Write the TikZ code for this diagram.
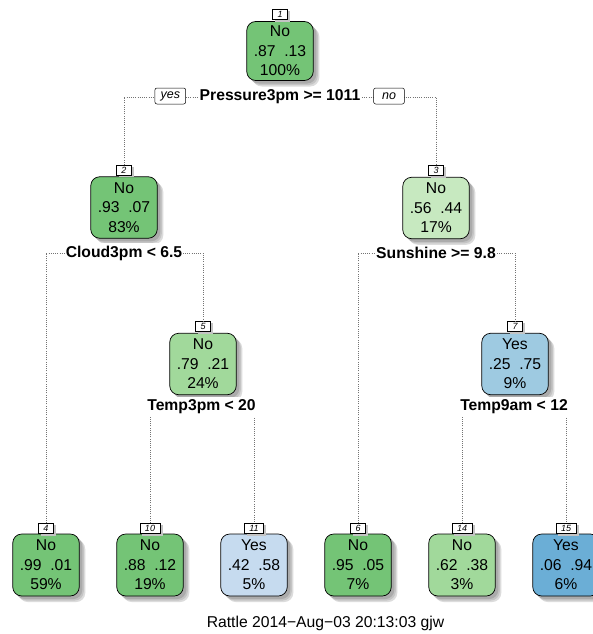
\documentclass[tikz,border=0pt]{standalone}
\usepackage{fontspec}
\setmainfont{Liberation Sans}
\definecolor{gA}{HTML}{74C476}
\definecolor{gB}{HTML}{A1D99B}
\definecolor{gC}{HTML}{C7E9C0}
\definecolor{bA}{HTML}{C6DBEF}
\definecolor{bB}{HTML}{9ECAE1}
\definecolor{bC}{HTML}{6BAED6}
\definecolor{shA}{HTML}{DCDCDC}
\definecolor{shB}{HTML}{C4C4C4}
\definecolor{shC}{HTML}{ABABAB}
\newcommand\rpnodefont{\fontsize{15.7}{19.5}\selectfont}
\newcommand\rpnumfont{\fontsize{9}{9}\selectfont\itshape}
\newcommand\rpsplitfont{\fontsize{15.7}{18}\selectfont\bfseries}
\newcommand\rpynfont{\fontsize{12.5}{14}\selectfont\itshape}
\tikzset{
  tnode/.style={draw=black, line width=0.7pt, rounded corners=9pt,
    minimum width=66.5pt, minimum height=61.5pt, inner sep=0pt,
    align=center, font=\rpnodefont},
  numbox/.style={draw=black, fill=white, line width=0.5pt, inner xsep=4.8pt,
    inner ysep=0pt, minimum height=10pt, font=\rpnumfont, anchor=south},
  splitlab/.style={fill=white, inner xsep=1pt, inner ysep=2.5pt, font=\rpsplitfont},
  ynbox/.style={draw=black, fill=white, line width=0.5pt, rounded corners=2pt,
    minimum width=30.7pt, minimum height=16pt, inner sep=0pt, font=\rpynfont},
  branch/.style={draw=black!55, line width=0.8pt, dash pattern=on 0.9pt off 1.3pt},
  footer/.style={font=\fontsize{15.7}{18}\selectfont, inner sep=0pt},
  shadowfar/.style={fill=shA, rounded corners=9pt},
  shadowmid/.style={fill=shB, rounded corners=9pt},
  shadownear/.style={fill=shC, rounded corners=9pt},
  shadowsmall/.style={fill=shB}
}
% name, x, y, half width, half height, colour, text
\newcommand\rpnode[7]{%
  \fill[shadowfar] (#2-#4+6,#3-#5+6) rectangle (#2+#4+6,#3+#5+6);
  \fill[shadowmid] (#2-#4+4.5,#3-#5+4.5) rectangle (#2+#4+4.5,#3+#5+4.5);
  \fill[shadownear] (#2-#4+3,#3-#5+3) rectangle (#2+#4+3,#3+#5+3);
  \node[tnode, fill=#6, minimum width=2*#4pt, minimum height=2*#5pt] (#1) at (#2,#3) {#7};
}
% node name, number, lift
\newcommand\rpnum[3]{%
  \path ([shift={(0,-#3)}]#1.north) node[numbox] (#1l) {#2};
  \fill[shadowsmall] ([shift={(2.5,2)}]#1l.north west) rectangle ([shift={(2.5,2)}]#1l.south east);
  \path ([shift={(0,-#3)}]#1.north) node[numbox] (#1lb) {#2};
}
\begin{document}
\begin{tikzpicture}[x=1pt,y=-1pt]
\clip (0,0) rectangle (593,634);
\fill[white] (0,0) rectangle (593,634);
% nodes
\rpnode{n1}{280}{51}{33.25}{29.5}{gA}{No\\.87\ \ .13\\100\%}
\rpnode{n2}{124}{207.5}{33.25}{30.75}{gA}{No\\.93\ \ .07\\83\%}
\rpnode{n3}{436}{208}{33.25}{30.75}{gC}{No\\.56\ \ .44\\17\%}
\rpnode{n5}{203}{364}{33.25}{30.75}{gB}{No\\.79\ \ .21\\24\%}
\rpnode{n7}{515}{364}{33.25}{30.75}{bB}{Yes\\.25\ \ .75\\9\%}
\rpnode{n4}{46}{565}{33.25}{31}{gA}{No\\.99\ \ .01\\59\%}
\rpnode{n10}{150}{565}{33.25}{31}{gA}{No\\.88\ \ .12\\19\%}
\rpnode{n11}{254}{565}{33.25}{31}{bA}{Yes\\.42\ \ .58\\5\%}
\rpnode{n6}{358}{565}{33.25}{31}{gA}{No\\.95\ \ .05\\7\%}
\rpnode{n14}{462}{565}{33.25}{31}{gB}{No\\.62\ \ .38\\3\%}
\rpnode{n15}{566}{565}{33.25}{31}{bC}{Yes\\.06\ \ .94\\6\%}
% number labels
\rpnum{n1}{1}{1.5}
\rpnum{n2}{2}{1}
\rpnum{n3}{3}{1}
\rpnum{n5}{5}{1}
\rpnum{n7}{7}{1}
\rpnum{n4}{4}{0}
\rpnum{n10}{10}{0}
\rpnum{n11}{11}{0}
\rpnum{n6}{6}{0}
\rpnum{n14}{14}{0}
\rpnum{n15}{15}{0}
% split coordinates
\coordinate (s1) at (280,97);
\coordinate (s2) at (124,253);
\coordinate (s3) at (436,253);
\coordinate (s5) at (202,407);
\coordinate (s7) at (514,407);
% branches
\draw[branch] (n2l.north) |- (s1) -| (n3l.north);
\draw[branch] (n4l.north) |- (s2) -| (n5l.north);
\draw[branch] (n6l.north) |- (s3) -| (n7l.north);
\draw[branch] (n10l.north) |- (s5) -| (n11l.north);
\draw[branch] (n14l.north) |- (s7) -| (n15l.north);
% split labels
\node[splitlab] (t1) at (s1) {Pressure3pm >= 1011};
\node[splitlab] (t2) at (s2) {Cloud3pm < 6.5};
\node[splitlab] (t3) at (s3) {Sunshine >= 9.8};
\node[splitlab] (t5) at ([xshift=-0.5pt]s5) {Temp3pm < 20};
\node[splitlab] (t7) at (s7) {Temp9am < 12};
\node[ynbox] (yes) at (170.3,96) {yes};
\node[ynbox] (no) at (389,96) {no};
% footer
\node[footer] (foot) at (325.5,623) {Rattle 2014−Aug−03 20:13:03 gjw};
\end{tikzpicture}
\end{document}
